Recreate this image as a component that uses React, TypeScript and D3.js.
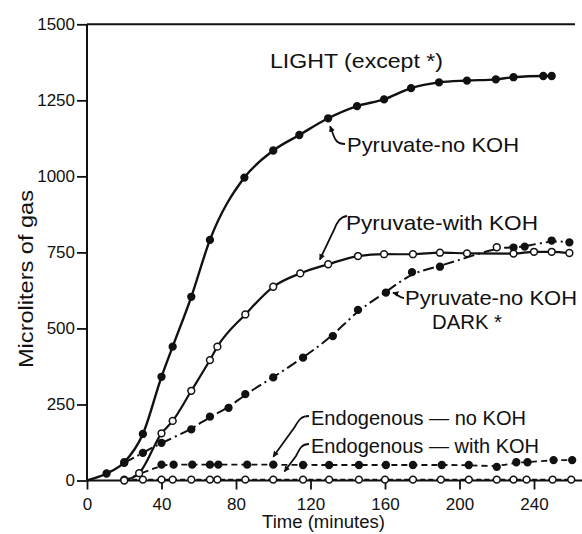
import { useEffect, useRef } from "react"
import * as d3 from "d3"

// Pyruvate - no KOH, light (filled dots, solid line)
const pyrNoKohTime = [0, 10.5, 20, 30, 40, 46, 56, 66, 84.5, 100, 114, 129.5, 145, 159.5, 174, 189, 204, 219.5, 229, 245, 249.5]
const pyrNoKohGas = [0, 23, 60, 153, 341, 440, 604, 791, 996, 1085, 1136, 1191, 1231, 1253, 1290, 1309, 1315, 1319, 1326, 1330, 1330]

// Pyruvate - with KOH (open dots, solid line)
const pyrKohTime = [20, 28, 40, 46, 56, 66, 70, 85, 100, 114.5, 129.5, 145.5, 159.5, 175, 189.5, 204, 229, 240, 249.5, 259]
const pyrKohGas = [0, 24, 155, 196, 295, 396, 440, 546, 637, 681, 711, 738, 744, 744, 749, 747, 746, 752, 752, 748]

// Pyruvate - no KOH, dark (filled dots, dash-dot line)
const darkTime = [20, 30, 40, 56, 66, 76, 85, 100, 116, 132, 145.5, 160.5, 174.5, 189.5, 220, 229, 235, 249.5, 259]
const darkGas = [58, 91, 124, 168, 210, 239, 284, 339, 404, 475, 561, 618, 685, 703, 767, 766, 769, 789, 783]
const darkOpenTime = [220]

// Endogenous - no KOH (filled dots, dashed line)
const endoNoKohTime = [20, 40, 46.5, 56.5, 66, 70.5, 86, 100, 116, 130, 146, 160.5, 175, 190.5, 205, 220, 230.5, 236.5, 250.5, 260.5]
const endoNoKohGas = [0, 52, 52, 52, 52, 52, 52, 52, 51, 51, 51, 51, 51, 51, 51, 45, 60, 60, 67, 67]

// Endogenous - with KOH (open dots, dashed line)
const endoKohTime = [20, 30, 40, 46, 56, 66, 70, 85, 100, 116, 130, 146, 160, 175, 190, 205, 220, 229, 236, 250, 260]
const endoKohGas = [3, 3, 3, 3, 3, 3, 3, 3, 3, 3, 3, 3, 3, 3, 3, 3, 3, 3, 3, 3, 3]

const xTicks = [0, 40, 80, 120, 160, 200, 240]
const yTicks = [0, 250, 500, 750, 1000, 1250, 1500]

const App = () => {
  const svgRef = useRef<SVGSVGElement>(null)

  useEffect(() => {
    const svg = d3.select(svgRef.current)
    svg.selectAll("*").remove()
    const font = '"Liberation Sans", Arial, sans-serif'
    const ink = "#111"

    const x = d3.scaleLinear().domain([0, 240]).range([87, 534])
    const y = d3.scaleLinear().domain([0, 1500]).range([480.5, 24.3])

    svg.append("rect").attr("width", 582).attr("height", 534).attr("fill", "#fff")

    // arrow head
    svg.append("defs").append("marker")
      .attr("id", "head")
      .attr("viewBox", "0 0 10 10")
      .attr("refX", 9).attr("refY", 5)
      .attr("markerWidth", 6).attr("markerHeight", 6)
      .attr("markerUnits", "userSpaceOnUse")
      .attr("orient", "auto")
      .append("path").attr("d", "M0,0 L10,5 L0,10 z").attr("fill", ink)

    // frame lines
    svg.append("path").attr("d", `M${x(0)},${y(1500)} H${x(262)}`).attr("stroke", ink).attr("stroke-width", 2).attr("fill", "none")
    svg.append("path").attr("d", `M${x(0)},${y(1500)} V${y(0)}`).attr("stroke", ink).attr("stroke-width", 2).attr("fill", "none")
    svg.append("path").attr("d", `M${x(0)},${y(0)} H582`).attr("stroke", ink).attr("stroke-width", 2).attr("fill", "none")

    //Y axis
    const gy = svg.append("g").attr("transform", `translate(${x(0)},0)`)
      .call(d3.axisLeft(y).tickValues(yTicks).tickSize(10).tickPadding(2).tickFormat(d3.format("d")))
    gy.select(".domain").remove()
    gy.selectAll("line").attr("stroke", ink).attr("stroke-width", 1.8)
    gy.selectAll("text").attr("font-family", font).attr("font-size", 17).attr("fill", ink)

    //X axis
    const gx = svg.append("g").attr("transform", `translate(0,${y(0)})`)
      .call(d3.axisBottom(x).tickValues(xTicks).tickSize(9).tickPadding(8).tickFormat(d3.format("d")))
    gx.select(".domain").remove()
    gx.selectAll("line").attr("stroke", ink).attr("stroke-width", 1.8)
    gx.selectAll("text").attr("font-family", font).attr("font-size", 17).attr("fill", ink)

    const series = [
      { time: endoKohTime, gas: endoKohGas, open: true, dash: "5,3", width: 1.6 },
      { time: endoNoKohTime, gas: endoNoKohGas, open: false, dash: "6,4", width: 1.8 },
      { time: darkTime, gas: darkGas, open: false, dash: "11,4,2,4", width: 2 },
      { time: pyrKohTime, gas: pyrKohGas, open: true, dash: null, width: 2.2 },
      { time: pyrNoKohTime, gas: pyrNoKohGas, open: false, dash: null, width: 2.4 },
    ]

    series.forEach(s => {
      const pts = s.time.map((t, i) => ({ t, v: s.gas[i] }))
      const line = d3.line<{ t: number, v: number }>()
        .x(d => x(d.t))
        .y(d => y(d.v))
        .curve(s.dash ? d3.curveBasis : d3.curveMonotoneX)
      svg.append("path")
        .datum(pts)
        .attr("fill", "none")
        .attr("stroke", ink)
        .attr("stroke-width", s.width)
        .attr("stroke-dasharray", s.dash)
        .attr("d", line)

      svg.append("g").selectAll("circle")
        .data(pts.filter(d => s.open || d.v > 0))
        .enter()
        .append("circle")
        .attr("cx", d => x(d.t))
        .attr("cy", d => y(d.v))
        .attr("r", 3.4)
        .attr("fill", d => (s.open || darkOpenTime.includes(d.t) && s.time === darkTime) ? "#fff" : ink)
        .attr("stroke", ink)
        .attr("stroke-width", 1.5)
    })

    // labels
    const label = (txt: string, lx: number, ly: number, len: number, size = 21) =>
      svg.append("text")
        .attr("x", lx).attr("y", ly)
        .attr("font-family", font).attr("font-size", size).attr("fill", ink)
        .attr("textLength", len).attr("lengthAdjust", "spacingAndGlyphs")
        .text(txt)

    label("LIGHT (except *)", 270, 68, 173)
    label("Pyruvate-no KOH", 347, 152, 172)
    label("Pyruvate-with KOH", 346, 230, 192)
    label("Pyruvate-no KOH", 405, 305, 172)
    label("DARK *", 432, 329, 70)
    label("Endogenous \u2014 no KOH", 311, 425, 215)
    label("Endogenous \u2014 with KOH", 311, 453, 228)

    // annotation arrows, tips near the curves they point to
    const arrow = (d: string) =>
      svg.append("path").attr("d", d).attr("fill", "none").attr("stroke", ink)
        .attr("stroke-width", 1.8).attr("marker-end", "url(#head)")

    arrow(`M345,144 C337,144 335,140 333,134 L${x(130) + 1},${y(1191) + 8}`)
    arrow(`M347,216 C340,217 337,222 334,230 L${x(125)},${y(700) - 8}`)
    arrow(`M404,298 C399,298 398,294 ${x(160.5) + 7},${y(618)}`)
    arrow(`M309,416 C301,416 299,420 294,428 L${x(100)},${y(52) - 8}`)
    arrow(`M309,444 C302,444 300,448 296,456 L${x(106)},${y(3) - 8}`)

    // axis titles
    svg.append("text")
      .attr("transform", `translate(33,279) rotate(-90)`)
      .attr("text-anchor", "middle")
      .attr("font-family", font).attr("font-size", 21).attr("fill", ink)
      .attr("textLength", 178).attr("lengthAdjust", "spacingAndGlyphs")
      .text("Microliters of gas")

    svg.append("text")
      .attr("x", 262).attr("y", 528)
      .attr("font-family", font).attr("font-size", 18).attr("fill", ink)
      .attr("textLength", 123).attr("lengthAdjust", "spacingAndGlyphs")
      .text("Time (minutes)")
  }, [])

  return (
    <svg ref={svgRef} width={582} height={534} style={{ position: "absolute", left: 0, top: 0 }}>
    </svg>
  )
}

export default App
